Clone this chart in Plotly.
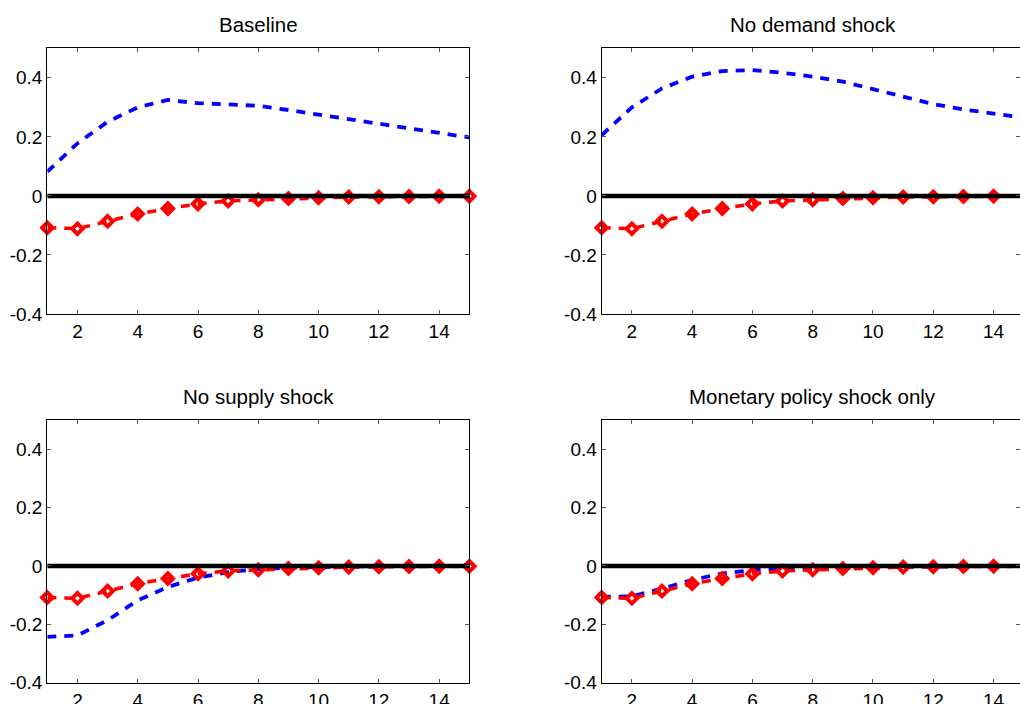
import plotly.graph_objects as go

# Horizon (quarters) shared by all panels
periods = list(range(1, 16))

panel_titles = ["Baseline", "No demand shock", "No supply shock", "Monetary policy shock only"]

# Counterfactual responses (blue dashed)
baseline = [0.082, 0.178, 0.251, 0.300, 0.325, 0.314, 0.310, 0.305, 0.291, 0.275,
            0.259, 0.244, 0.229, 0.214, 0.198]
no_demand = [0.206, 0.300, 0.364, 0.404, 0.423, 0.426, 0.417, 0.404, 0.387, 0.361,
             0.336, 0.311, 0.293, 0.280, 0.265]
no_supply = [-0.243, -0.238, -0.186, -0.118, -0.072, -0.040, -0.021, -0.011, -0.006, -0.003,
             -0.002, -0.001, -0.001, 0.000, 0.000]
mp_only = [-0.106, -0.104, -0.078, -0.048, -0.026, -0.014, -0.009, -0.006, -0.004, -0.003,
           -0.002, -0.001, -0.001, 0.000, 0.000]

# Reference response (red dashed with diamonds), same in every panel
reference = [-0.108, -0.111, -0.086, -0.061, -0.043, -0.027, -0.017, -0.013, -0.009, -0.006,
             -0.004, -0.003, -0.002, -0.001, -0.001]

zero_line = [0.0] * len(periods)

y_ticks = [-0.4, -0.2, 0, 0.2, 0.4]
y_tick_labels = ["-0.4", "-0.2", "0", "0.2", "0.4"]
x_ticks = [2, 4, 6, 8, 10, 12, 14]
x_tick_labels = ["2", "4", "6", "8", "10", "12", "14"]

W, H = 1020, 704
FONT = "Liberation Sans, Arial, sans-serif"

# Panel boxes in pixels: (left, right, top, bottom)
px_per_x = (469.3 - 47.3) / 14.0
boxes = [
    (47.3, 469.3, 48.3, 314.0),
    (601.7, 1020.0, 48.3, 314.0),
    (47.3, 469.3, 420.0, 682.7),
    (601.7, 1020.0, 420.0, 682.7),
]
series = [baseline, no_demand, no_supply, mp_only]

fig = go.Figure()
layout = dict(
    width=W, height=H,
    margin=dict(l=0, r=0, t=0, b=0),
    paper_bgcolor="white", plot_bgcolor="white",
    showlegend=False,
    font=dict(family=FONT, size=19, color="black"),
)
annotations = []

for i, (box, blue, title) in enumerate(zip(boxes, series, panel_titles)):
    left, right, top, bottom = box
    sfx = "" if i == 0 else str(i + 1)
    xa, ya = "x" + sfx, "y" + sfx
    x_max = 1 + (right - left) / px_per_x

    fig.add_trace(go.Scatter(
        x=periods, y=blue, mode="lines", xaxis=xa, yaxis=ya,
        line=dict(color="#0000FF", width=3.8, dash="9px,8px"),
    ))
    fig.add_trace(go.Scatter(
        x=periods, y=reference, mode="lines+markers", xaxis=xa, yaxis=ya,
        line=dict(color="#FF0000", width=3.6, dash="9px,8px"),
        marker=dict(symbol="diamond-open", size=8, color="#FF0000",
                    line=dict(color="#FF0000", width=4)),
        cliponaxis=False,
    ))
    fig.add_trace(go.Scatter(
        x=periods, y=zero_line, mode="lines", xaxis=xa, yaxis=ya,
        line=dict(color="black", width=4.5),
    ))

    axis_common = dict(
        showline=True, linecolor="black", linewidth=1.2, mirror="ticks",
        ticks="inside", ticklen=4, tickcolor="#555555", tickwidth=1,
        showgrid=False, zeroline=False, automargin=False,
        tickfont=dict(family=FONT, size=19, color="black"),
    )
    layout["xaxis" + sfx] = dict(
        axis_common, domain=[left / W, right / W], range=[1, x_max],
        tickvals=x_ticks, ticktext=x_tick_labels, anchor=ya,
    )
    layout["yaxis" + sfx] = dict(
        axis_common, domain=[1 - bottom / H, 1 - top / H], range=[-0.4, 0.5],
        tickvals=y_ticks, ticktext=y_tick_labels, anchor=xa,
    )

    annotations.append(dict(
        text=title, xref="paper", yref="paper",
        x=(left + (left + 14 * px_per_x)) / 2 / W, y=1 - (top - 24) / H,
        xanchor="center", yanchor="middle", showarrow=False,
        font=dict(family=FONT, size=20.5, color="black"),
    ))

layout["annotations"] = annotations
fig.update_layout(**layout)
fig.write_html("out.html")
